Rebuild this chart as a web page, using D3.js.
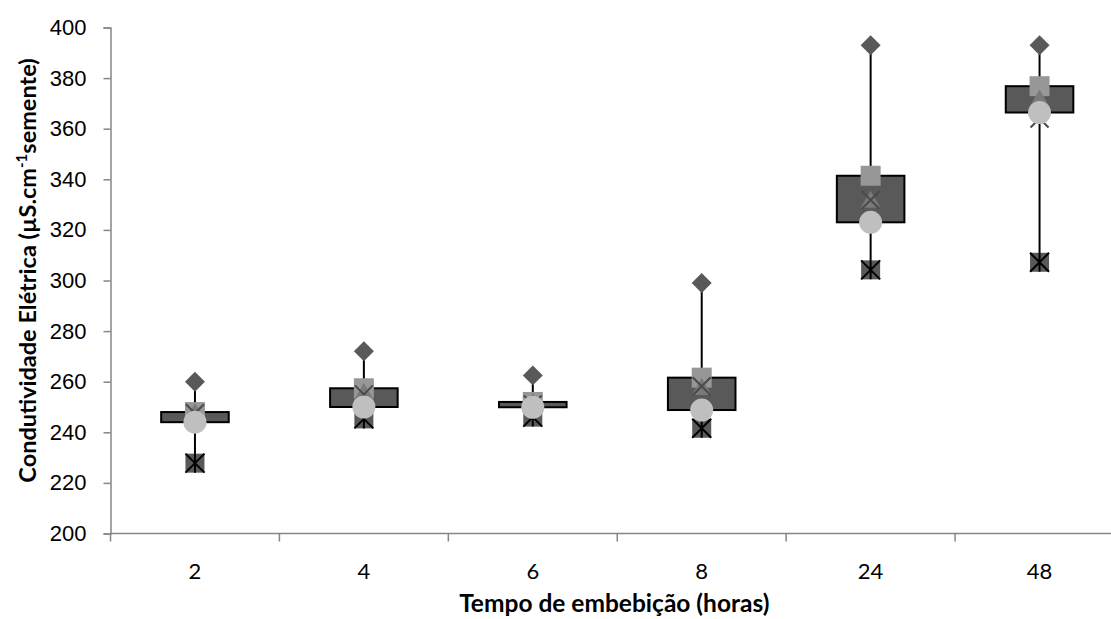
<!DOCTYPE html>
<html>
<head>
<meta charset="utf-8">
<script src="https://cdn.jsdelivr.net/npm/d3@7"></script>
<style>
  html, body { margin: 0; padding: 0; background: #fff; }
  svg { display: block; font-family: Lato, "Open Sans", sans-serif; }
</style>
</head>
<body>
<svg id="chart" width="1111" height="619"></svg>
<script>
// Imbibition time (hours) and conductivity summaries per time
const categories = ["2", "4", "6", "8", "24", "48"];
const maxValues    = [260, 272, 262.5, 299, 393, 393];
const q3Values     = [248, 257.4, 252, 261.6, 341.4, 376.8];
const medianValues = [247, 255, 251, 257, 331, 371];
const meanValues   = [247.5, 255, 251, 258.2, 331.8, 364];
const q1Values     = [244, 250, 249.9, 248.8, 323, 366.4];
const minValues    = [227.8, 245.3, 246, 241.6, 304.2, 307.2];
const yTicks = [200, 220, 240, 260, 280, 300, 320, 340, 360, 380, 400];

const rows = categories.map((c, i) => ({
  cat: c, max: maxValues[i], q3: q3Values[i], median: medianValues[i],
  mean: meanValues[i], q1: q1Values[i], min: minValues[i]
}));

const svg = d3.select("#chart");
const plotLeft = 110.5, plotRight = 1124, plotTop = 27.5, plotBottom = 533.5;

const x = d3.scaleBand().domain(categories).range([plotLeft, plotRight]).padding(0);
const y = d3.scaleLinear().domain([200, 400]).range([plotBottom, plotTop]);
const boxW = x.bandwidth() * 0.4;
const cx = d => x(d.cat) + x.bandwidth() / 2;

const axisColor = "#868686";

// Y axis
const yAxis = svg.append("g")
  .attr("transform", `translate(${plotLeft},0)`)
  .call(d3.axisLeft(y).tickValues(yTicks).tickSize(7).tickPadding(17).tickFormat(d3.format("d")));
yAxis.select(".domain").attr("stroke", axisColor).attr("stroke-width", 1.5);
yAxis.selectAll(".tick line").attr("stroke", axisColor).attr("stroke-width", 1.5);
yAxis.selectAll(".tick text").attr("fill", "#000").style("font-size", "22px");

// X axis: line with tick marks between categories
const xAxis = svg.append("g");
xAxis.append("line")
  .attr("x1", plotLeft).attr("x2", plotRight).attr("y1", plotBottom).attr("y2", plotBottom)
  .attr("stroke", axisColor).attr("stroke-width", 1.5);
const boundaries = categories.map(c => x(c)).concat([plotRight]);
xAxis.selectAll("line.tk").data(boundaries).join("line")
  .attr("class", "tk")
  .attr("x1", d => d).attr("x2", d => d)
  .attr("y1", plotBottom).attr("y2", plotBottom + 8)
  .attr("stroke", axisColor).attr("stroke-width", 1.5);
xAxis.selectAll("text").data(categories).join("text")
  .attr("x", c => x(c) + x.bandwidth() / 2)
  .attr("y", plotBottom + 45)
  .attr("text-anchor", "middle")
  .style("font-size", "22px")
  .attr("fill", "#000")
  .text(c => c);

// Axis titles
svg.append("text")
  .attr("x", (plotLeft + plotRight) / 2 - 3)
  .attr("y", 612)
  .attr("text-anchor", "middle")
  .style("font-size", "24.5px").style("font-weight", "bold")
  .text("Tempo de embebição (horas)");

const yTitle = svg.append("text")
  .attr("transform", `translate(36,${(plotTop + plotBottom) / 2 - 10}) rotate(-90)`)
  .attr("text-anchor", "middle")
  .style("font-size", "23.5px").style("font-weight", "bold");
yTitle.append("tspan").text("Condutividade Elétrica (µS.cm");
yTitle.append("tspan").attr("dy", -9).style("font-size", "15px").text("-1");
yTitle.append("tspan").attr("dy", 9).text("semente)");

const plot = svg.append("g");

// High-low whiskers
plot.selectAll("line.whisker").data(rows).join("line")
  .attr("class", "whisker")
  .attr("x1", cx).attr("x2", cx)
  .attr("y1", d => y(d.min)).attr("y2", d => y(d.max))
  .attr("stroke", "#000").attr("stroke-width", 2);

// Boxes from Q1 to Q3
plot.selectAll("rect.box").data(rows).join("rect")
  .attr("class", "box")
  .attr("x", d => cx(d) - boxW / 2)
  .attr("width", boxW)
  .attr("y", d => y(d.q3))
  .attr("height", d => y(d.q1) - y(d.q3))
  .attr("fill", "#595959").attr("stroke", "#000").attr("stroke-width", 2);

// Markers
const sym = (type, size) => d3.symbol().type(type).size(size)();

// maximum: diamond
plot.selectAll("path.max").data(rows).join("path")
  .attr("class", "max")
  .attr("transform", d => `translate(${cx(d)},${y(d.max)}) rotate(45)`)
  .attr("d", sym(d3.symbolSquare, 200))
  .attr("fill", "#595959");

// Q3: square
plot.selectAll("path.q3").data(rows).join("path")
  .attr("class", "q3")
  .attr("transform", d => `translate(${cx(d)},${y(d.q3)})`)
  .attr("d", sym(d3.symbolSquare, 400))
  .attr("fill", "#979797");

// median: triangle
plot.selectAll("path.median").data(rows).join("path")
  .attr("class", "median")
  .attr("transform", d => `translate(${cx(d)},${y(d.median)})`)
  .attr("d", sym(d3.symbolTriangle, 170))
  .attr("fill", "#7a7a7a");

// mean: x
const xMark = plot.selectAll("g.mean").data(rows).join("g")
  .attr("class", "mean")
  .attr("transform", d => `translate(${cx(d)},${y(d.mean)})`);
xMark.append("path")
  .attr("d", "M-9,-9L9,9M9,-9L-9,9")
  .attr("stroke", "#4a4a4a").attr("stroke-width", 2).attr("fill", "none");

// minimum: star on a dark square
const star = plot.selectAll("g.min").data(rows).join("g")
  .attr("class", "min")
  .attr("transform", d => `translate(${cx(d)},${y(d.min)})`);
star.append("rect")
  .attr("x", -9.5).attr("y", -9.5).attr("width", 19).attr("height", 19)
  .attr("fill", "#595959");
star.append("path")
  .attr("d", "M-9.5,-9.5L9.5,9.5M9.5,-9.5L-9.5,9.5M0,-9.5L0,9.5")
  .attr("stroke", "#000").attr("stroke-width", 2).attr("fill", "none");

// Q1: circle
plot.selectAll("circle.q1").data(rows).join("circle")
  .attr("class", "q1")
  .attr("cx", cx).attr("cy", d => y(d.q1))
  .attr("r", 11.5)
  .attr("fill", "#bfbfbf");
</script>
</body>
</html>
